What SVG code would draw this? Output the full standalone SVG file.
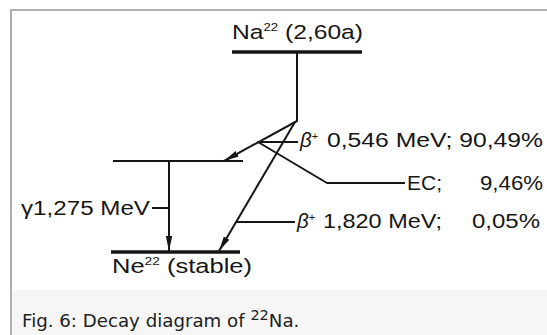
<svg xmlns="http://www.w3.org/2000/svg" width="547" height="335" viewBox="0 0 547 335">
<style>
.frame{stroke:#b0b0b0;stroke-width:2;fill:none}
.lvl{stroke:#161616;stroke-width:3.5;fill:none}
.ln{stroke:#161616;stroke-width:2;fill:none;stroke-linejoin:round}
.t{font-family:"Liberation Sans",Arial,sans-serif;fill:#161616;font-size:20.5px}
.cap{font-family:"DejaVu Sans",sans-serif;fill:#202122;font-size:18.2px}
.b{font-style:italic}
</style>
<defs>
<marker id="arr" markerUnits="userSpaceOnUse" markerWidth="16" markerHeight="10" viewBox="0 0 16 10" refX="15" refY="5" orient="auto">
<path d="M0,1.8 L15,5 L0,8.2 Z" fill="#161616"/>
</marker>
</defs>
<rect x="0" y="0" width="547" height="335" fill="#ffffff"/>
<rect x="11" y="290" width="536" height="45" fill="#f6f6f6"/>
<path class="frame" d="M11,335 V10 H547"/>

<g id="level-na22">
<line class="lvl" x1="232" y1="52" x2="362" y2="52"/>
<text class="t" x="232" y="39" textLength="131" lengthAdjust="spacingAndGlyphs">Na<tspan font-size="11" dy="-8">22</tspan><tspan dy="8"> (2,60a)</tspan></text>
</g>

<g id="level-intermediate">
<line class="ln" x1="113" y1="161" x2="243" y2="161"/>
</g>

<g id="level-ne22">
<line class="lvl" x1="111" y1="252" x2="240" y2="252"/>
<text class="t" x="112" y="273" textLength="140" lengthAdjust="spacingAndGlyphs">Ne<tspan font-size="11" dy="-8">22</tspan><tspan dy="8"> (stable)</tspan></text>
</g>

<g id="label-beta-0546">
<text class="t" x="300" y="147"><tspan class="b">β</tspan><tspan font-size="11" dy="-7">+</tspan><tspan x="327" dy="7" textLength="216" lengthAdjust="spacingAndGlyphs">0,546 MeV; 90,49%</tspan></text>
</g>

<g id="label-ec">
<text class="t" x="407" y="190" textLength="35" lengthAdjust="spacingAndGlyphs">EC;</text>
<text class="t" x="480" y="190" textLength="63" lengthAdjust="spacingAndGlyphs">9,46%</text>
</g>

<g id="label-beta-1820">
<text class="t" x="297" y="228"><tspan class="b">β</tspan><tspan font-size="11" dy="-7">+</tspan><tspan x="323" dy="7" textLength="119" lengthAdjust="spacingAndGlyphs">1,820 MeV;</tspan></text>
<text class="t" x="472" y="228" textLength="68" lengthAdjust="spacingAndGlyphs">0,05%</text>
</g>

<g id="label-gamma">
<text class="t" x="21" y="215" textLength="129" lengthAdjust="spacingAndGlyphs">γ1,275 MeV</text>
</g>

<g id="connectors">
<path class="ln" d="M297,53 V121 L224,161" marker-end="url(#arr)"/>
<path class="ln" d="M295,122 L219,251" marker-end="url(#arr)"/>
<path class="ln" d="M169,161 V251" marker-end="url(#arr)"/>
<path class="ln" d="M258,142 L327,183 H405"/>
<path class="ln" d="M257,142 H298"/>
<path class="ln" d="M236,222 H295"/>
<path class="ln" d="M152,208 H169"/>
</g>

<text class="cap" x="22" y="327">Fig. 6: Decay diagram of <tspan font-size="14.5" dy="-7">22</tspan><tspan dy="7">Na.</tspan></text>
</svg>
